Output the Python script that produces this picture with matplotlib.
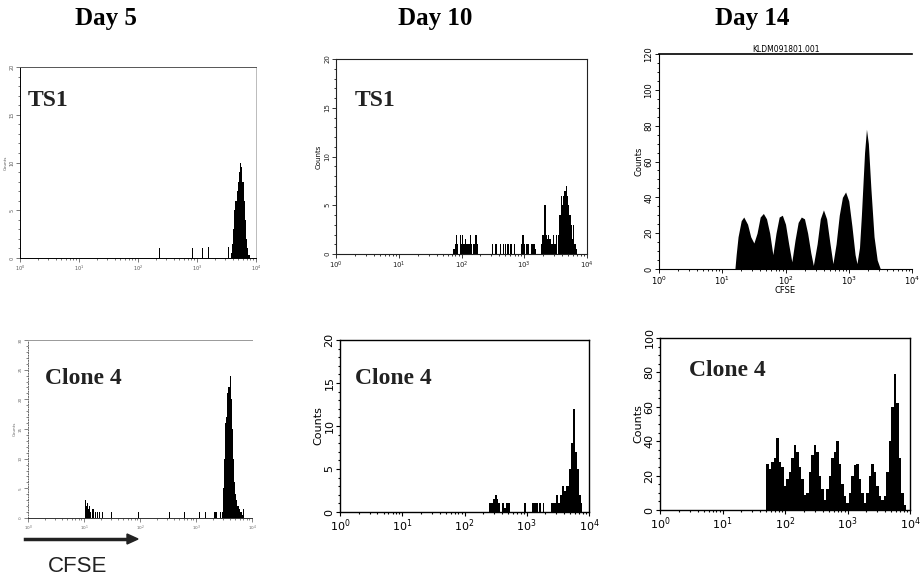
import numpy as np
import matplotlib.pyplot as plt
from matplotlib.ticker import MultipleLocator, LogLocator, NullFormatter

# ---- data (log10 CFSE channel, counts) ----
# Day 5, TS1
d5_ts1_x = [2.37, 2.93, 3.10, 3.20, 3.54, 3.58, 3.60, 3.62, 3.64, 3.66, 3.68, 3.70,
            3.72, 3.74, 3.76, 3.78, 3.80, 3.82, 3.84, 3.86, 3.88]
d5_ts1_n = [1, 1, 1, 1.2, 1.2, 0.5, 1.5, 3, 5, 6, 7, 8, 9, 10, 9.5, 8, 6, 4, 2, 1, 0.3]

# Day 10, TS1
d10_ts1_x = [1.88, 1.90, 1.92, 1.94, 1.98, 2.00, 2.02, 2.04, 2.06, 2.08, 2.10, 2.12, 2.14,
             2.16, 2.20, 2.22, 2.24, 2.26,
             2.49, 2.55, 2.62, 2.67, 2.70, 2.74, 2.79, 2.84,
             2.96, 2.98, 3.00, 3.04, 3.06, 3.12, 3.14, 3.16, 3.18,
             3.27, 3.29, 3.31, 3.33, 3.35, 3.37, 3.39, 3.41, 3.43, 3.45, 3.47, 3.49, 3.51,
             3.55, 3.57, 3.59, 3.61, 3.63, 3.65, 3.67, 3.69, 3.71, 3.73, 3.75, 3.77, 3.79,
             3.81, 3.83]
d10_ts1_n = [0.5, 1, 2, 1, 2, 1, 2, 1, 1.5, 1, 1, 1, 2,
             1, 1, 2, 2, 1,
             1, 1, 1, 1, 1, 1, 1, 1,
             1, 2, 1, 1, 1, 1, 1, 1, 0.5,
             1, 2, 2, 5, 2, 1.5, 2, 1.5, 1, 1, 2, 1, 2,
             2, 4, 6, 5, 6, 6.5, 7, 6, 5, 4, 3, 1.5, 3,
             1, 0.5]

# Day 14, TS1 (smooth division peaks)
d14_ts1_x = [1.20, 1.22, 1.25, 1.30, 1.34, 1.40, 1.45, 1.50, 1.55, 1.60, 1.65, 1.70, 1.75,
             1.80, 1.85, 1.90, 1.95, 2.00, 2.05, 2.10, 2.15, 2.20, 2.25, 2.30, 2.35, 2.40,
             2.44, 2.50, 2.55, 2.60, 2.65, 2.70, 2.75, 2.80, 2.85, 2.90, 2.95, 3.00, 3.05,
             3.10, 3.13, 3.17, 3.20, 3.25, 3.28, 3.31, 3.35, 3.40, 3.45, 3.50]
d14_ts1_n = [0, 8, 18, 27, 29, 25, 18, 14.5, 20, 29, 31, 28, 20,
             8, 20, 29, 30, 25, 14, 4, 16, 26, 29, 28, 20, 9,
             2, 14, 28, 33, 28, 15, 3, 14, 30, 40, 43, 38, 24,
             8, 3, 12, 30, 65, 78, 70, 45, 18, 5, 0]

# Day 5, Clone 4
d5_c4_x = [1.02, 1.04, 1.06, 1.08, 1.10, 1.12, 1.16, 1.20, 1.24, 1.27, 1.33,
           1.49, 1.97, 2.53, 2.79, 3.07, 3.17, 3.34, 3.37, 3.44,
           3.47, 3.49, 3.51, 3.53, 3.55, 3.57, 3.59, 3.61, 3.63, 3.65, 3.67, 3.69, 3.71,
           3.73, 3.75, 3.77, 3.79, 3.81, 3.83, 3.85]
d5_c4_n = [3, 2, 2.5, 1.5, 2, 1, 1.5, 1, 1, 1, 1,
           1, 1, 1, 1, 1, 1, 1, 1, 1,
           1, 5, 10, 16, 17, 21, 22, 24, 20, 15, 10, 6, 4,
           3, 2, 1.5, 1, 1, 0.5, 1.5]

# Day 10, Clone 4
d10_c4_x = [2.41, 2.44, 2.47, 2.50, 2.53, 2.56, 2.62, 2.65, 2.68, 2.71,
            2.97, 3.10, 3.13, 3.16, 3.21, 3.27,
            3.40, 3.43, 3.46, 3.49, 3.52, 3.55, 3.58, 3.61, 3.64, 3.67, 3.70, 3.73,
            3.76, 3.79, 3.82, 3.85, 3.88]
d10_c4_n = [1, 1, 1.5, 2, 1.5, 1, 1, 0.5, 1, 1,
            1, 1, 1, 1, 1, 1,
            1, 1, 1, 2, 1, 2, 3, 2.5, 3, 3, 5, 8,
            12, 7, 5, 2, 1]

# Day 14, Clone 4
d14_c4_x = [1.68, 1.72, 1.76, 1.80, 1.84, 1.88, 1.92, 1.96, 2.00, 2.04, 2.08, 2.12, 2.16,
            2.20, 2.24, 2.28, 2.32, 2.36, 2.40, 2.44, 2.48, 2.52, 2.56, 2.60, 2.64, 2.68,
            2.72, 2.76, 2.80, 2.84, 2.88, 2.92, 2.96, 3.00, 3.04, 3.08, 3.12, 3.16, 3.20,
            3.24, 3.28, 3.32, 3.36, 3.40, 3.44, 3.48, 3.52, 3.56, 3.60, 3.64, 3.68, 3.72,
            3.76, 3.80, 3.84, 3.88, 3.92, 3.96]
d14_c4_n = [0, 27, 24, 28, 30, 42, 28, 25, 14, 18, 22, 30, 38,
            34, 25, 18, 9, 10, 22, 32, 38, 34, 20, 12, 6, 12,
            20, 30, 34, 40, 27, 15, 8, 4, 10, 20, 26, 27, 18,
            10, 4, 10, 20, 27, 22, 14, 8, 6, 8, 22, 40, 60,
            79, 62, 30, 10, 3, 0]

days = ['Day 5', 'Day 10', 'Day 14']
rows = ['TS1', 'Clone 4']

W, H = 921, 580
fig = plt.figure(figsize=(W / 100, H / 100), dpi=100)


def box(l, r, t, b):
    return [l / W, (H - b) / H, (r - l) / W, (b - t) / H]


def bars(ax, x, n, w):
    x = np.array(x)
    left = 10 ** (x - w / 2)
    right = 10 ** (x + w / 2)
    ax.bar(left, n, width=right - left, align='edge', color='k', linewidth=0)


def style(ax, ymax, ystep, yminor, fs, col='k', lw=0.8):
    ax.set_xscale('log')
    ax.set_xlim(1, 1e4)
    ax.set_ylim(0, ymax)
    ax.yaxis.set_major_locator(MultipleLocator(ystep))
    ax.yaxis.set_minor_locator(MultipleLocator(yminor))
    ax.xaxis.set_major_locator(LogLocator(base=10, numticks=10))
    ax.xaxis.set_minor_locator(LogLocator(base=10, subs=np.arange(2, 10), numticks=20))
    ax.xaxis.set_minor_formatter(NullFormatter())
    ax.tick_params(which='both', direction='out', colors=col, labelsize=fs, width=lw * 0.8,
                   pad=1)
    ax.tick_params(which='major', length=3)
    ax.tick_params(which='minor', length=1.5)
    for lab in ax.get_yticklabels():
        lab.set_rotation(90)
        lab.set_va('center')
    for s in ax.spines.values():
        s.set_linewidth(lw)
        s.set_color(col)


# Day 5, TS1
ax1 = fig.add_axes(box(20, 256, 67, 258))
bars(ax1, d5_ts1_x, d5_ts1_n, 0.02)
style(ax1, 20, 5, 1, 3.5, col='#555555', lw=0.7)
ax1.spines['right'].set_color('#bbbbbb')
ax1.spines['left'].set_color('k')
ax1.spines['bottom'].set_color('k')
ax1.set_ylabel('Counts', fontsize=3, color='#555555', labelpad=1)

# Day 10, TS1
ax2 = fig.add_axes(box(336, 587, 59, 254))
bars(ax2, d10_ts1_x, d10_ts1_n, 0.02)
style(ax2, 20, 5, 1, 5, col='#222222', lw=0.8)
ax2.set_ylabel('Counts', fontsize=5, labelpad=2)

# Day 14, TS1
ax3 = fig.add_axes(box(659, 912, 54, 269))
ax3.fill_between(10 ** np.array(d14_ts1_x), d14_ts1_n, color='k', linewidth=0)
style(ax3, 120, 20, 5, 6, lw=0.8)
ax3.spines['right'].set_visible(False)
ax3.spines['top'].set_linewidth(1.2)
ax3.set_ylabel('Counts', fontsize=6, labelpad=1)
ax3.set_xlabel('CFSE', fontsize=6, labelpad=-1)
ax3.set_title('KLDM091801.001', fontsize=5.5, pad=1.5)

# Day 5, Clone 4
ax4 = fig.add_axes(box(28, 252, 340, 518))
bars(ax4, d5_c4_x, d5_c4_n, 0.02)
style(ax4, 30, 5, 1, 3, col='#666666', lw=0.7)
ax4.spines['right'].set_visible(False)
ax4.spines['left'].set_linestyle(':')
ax4.spines['top'].set_color('#999999')
ax4.spines['bottom'].set_color('#333333')
ax4.set_ylabel('Counts', fontsize=3, color='#666666', labelpad=1)

# Day 10, Clone 4
ax5 = fig.add_axes(box(340, 589, 340, 512))
bars(ax5, d10_c4_x, d10_c4_n, 0.03)
style(ax5, 20, 5, 1, 8, lw=1.0)
ax5.set_ylabel('Counts', fontsize=8, labelpad=1)

# Day 14, Clone 4
ax6 = fig.add_axes(box(660, 910, 338, 510))
ax6.fill_between(10 ** np.array(d14_c4_x), d14_c4_n, step='mid', color='k', linewidth=0)
style(ax6, 100, 20, 5, 8, lw=1.0)
ax6.set_ylabel('Counts', fontsize=8, labelpad=1)

# column headers and row labels
serif = ['Liberation Serif', 'DejaVu Serif']
for d, xc in zip(days, [106, 435, 752]):
    fig.text(xc / W, 1 - 18 / H, d, ha='center', va='center', fontsize=18,
             fontweight='bold', family=serif)

for ax, lab, (px, py) in zip([ax1, ax2, ax4, ax5, ax6],
                              [rows[0], rows[0], rows[1], rows[1], rows[1]],
                              [(28, 100), (355, 101), (45, 378), (355, 379), (689, 371)]):
    fig.text(px / W, 1 - py / H, lab, ha='left', va='center', fontsize=17,
             fontweight='bold', family=serif, color='#222222')

# CFSE arrow
fig.add_artist(plt.Line2D([25 / W, 130 / W], [1 - 539 / H, 1 - 539 / H], color='#222222',
                          linewidth=2.5))
fig.patches.append(plt.Polygon([[127 / W, 1 - 534 / H], [138 / W, 1 - 539 / H],
                                [127 / W, 1 - 544 / H]], closed=True, color='#222222',
                               transform=fig.transFigure, figure=fig))
fig.text(78 / W, 1 - 567 / H, 'CFSE', ha='center', va='center', fontsize=16,
         color='#222222', family=['Liberation Sans', 'DejaVu Sans'])

plt.savefig('out.png', dpi=100)
